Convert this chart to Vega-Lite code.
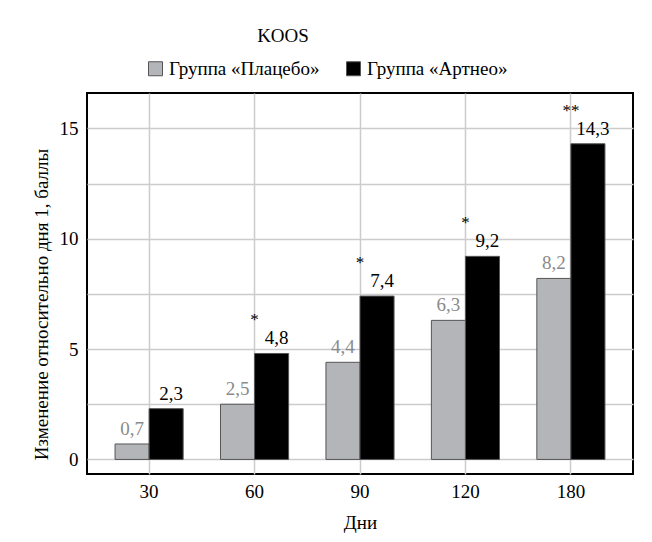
{
  "$schema": "https://vega.github.io/schema/vega-lite/v6.json",
  "width": 546,
  "height": 381,
  "autosize": {"type": "none"},
  "padding": {"left": 87, "top": 93, "right": 19, "bottom": 68},
  "background": "white",
  "title": {
    "text": "KOOS",
    "font": "Liberation Serif",
    "fontSize": 19,
    "fontWeight": "normal",
    "color": "black",
    "anchor": "middle",
    "frame": "group",
    "dx": -77,
    "offset": -2,
    "baseline": "alphabetic"
  },
  "data": {
    "values": [
      {"day": "30", "group": "Группа «Плацебо»", "value": 0.7, "label": "0,7", "sig": ""},
      {"day": "30", "group": "Группа «Артнео»", "value": 2.3, "label": "2,3", "sig": ""},
      {"day": "60", "group": "Группа «Плацебо»", "value": 2.5, "label": "2,5", "sig": ""},
      {"day": "60", "group": "Группа «Артнео»", "value": 4.8, "label": "4,8", "sig": "*"},
      {"day": "90", "group": "Группа «Плацебо»", "value": 4.4, "label": "4,4", "sig": ""},
      {"day": "90", "group": "Группа «Артнео»", "value": 7.4, "label": "7,4", "sig": "*"},
      {"day": "120", "group": "Группа «Плацебо»", "value": 6.3, "label": "6,3", "sig": ""},
      {"day": "120", "group": "Группа «Артнео»", "value": 9.2, "label": "9,2", "sig": "*"},
      {"day": "180", "group": "Группа «Плацебо»", "value": 8.2, "label": "8,2", "sig": ""},
      {"day": "180", "group": "Группа «Артнео»", "value": 14.3, "label": "14,3", "sig": "**"}
    ]
  },
  "encoding": {
    "x": {
      "field": "day",
      "type": "nominal",
      "sort": ["30", "60", "90", "120", "180"],
      "scale": {"paddingInner": 0.354, "paddingOuter": 0.266},
      "axis": {
        "title": "Дни",
        "labelAngle": 0,
        "grid": true,
        "bandPosition": 0.5,
        "gridColor": "#cccccc",
        "gridWidth": 1.5,
        "ticks": false,
        "tickSize": 0,
        "domain": false,
        "labelPadding": 8,
        "titleBaseline": "middle",
        "titleY": 48
      }
    },
    "y": {
      "field": "value",
      "type": "quantitative",
      "scale": {"domain": [-0.66, 16.6], "nice": false, "zero": false},
      "axis": {
        "title": "Изменение относительно дня 1, баллы",
        "values": [0, 2.5, 5, 7.5, 10, 12.5, 15],
        "labelExpr": "datum.value % 5 === 0 ? datum.value : ''",
        "grid": true,
        "gridColor": "#cccccc",
        "gridWidth": 1.5,
        "ticks": false,
        "tickSize": 0,
        "domain": false,
        "labelPadding": 9,
        "titleBaseline": "middle",
        "titleX": -46,
        "titleY": 211
      }
    }
  },
  "layer": [
    {
      "mark": {"type": "bar", "stroke": "#555555", "strokeWidth": 1},
      "encoding": {
        "xOffset": {
          "field": "group",
          "type": "nominal",
          "sort": ["Группа «Плацебо»", "Группа «Артнео»"],
          "scale": {"domain": ["Группа «Плацебо»", "Группа «Артнео»"], "paddingInner": 0, "paddingOuter": 0}
        },
        "y2": {"datum": 0},
        "color": {
          "field": "group",
          "type": "nominal",
          "sort": ["Группа «Плацебо»", "Группа «Артнео»"],
          "scale": {"domain": ["Группа «Плацебо»", "Группа «Артнео»"], "range": ["#b3b5b8", "#000000"]},
          "legend": {
            "title": null,
            "orient": "none",
            "direction": "horizontal",
            "legendX": 59,
            "legendY": -34,
            "symbolType": "square",
            "symbolSize": 196,
            "symbolStrokeColor": "#555555",
            "symbolStrokeWidth": 1,
            "labelFont": "Liberation Serif",
            "labelFontSize": 19,
            "labelColor": "black",
            "labelOffset": 4,
            "columnPadding": 24
          }
        }
      }
    },
    {
      "transform": [{"filter": "datum.group === 'Группа «Плацебо»'"}],
      "mark": {"type": "text", "baseline": "alphabetic", "dy": -9, "font": "Liberation Serif", "fontSize": 19, "color": "#8a8a8a"},
      "encoding": {
        "xOffset": {
          "field": "group",
          "type": "nominal",
          "sort": ["Группа «Плацебо»", "Группа «Артнео»"],
          "scale": {"domain": ["Группа «Плацебо»", "Группа «Артнео»"], "paddingInner": 0, "paddingOuter": 0}
        },
        "text": {"field": "label"}
      }
    },
    {
      "transform": [{"filter": "datum.group === 'Группа «Артнео»'"}],
      "mark": {"type": "text", "baseline": "alphabetic", "dy": -9, "dx": 5, "font": "Liberation Serif", "fontSize": 19, "color": "#000000"},
      "encoding": {
        "xOffset": {
          "field": "group",
          "type": "nominal",
          "sort": ["Группа «Плацебо»", "Группа «Артнео»"],
          "scale": {"domain": ["Группа «Плацебо»", "Группа «Артнео»"], "paddingInner": 0, "paddingOuter": 0}
        },
        "text": {"field": "label"}
      }
    },
    {
      "transform": [{"filter": "datum.sig !== ''"}],
      "mark": {"type": "text", "baseline": "alphabetic", "dy": -28, "font": "Liberation Serif", "fontSize": 17, "color": "#000000"},
      "encoding": {
        "text": {"field": "sig"}
      }
    }
  ],
  "config": {
    "view": {"stroke": "black", "strokeWidth": 2},
    "axis": {
      "labelFont": "Liberation Serif",
      "labelFontSize": 19,
      "labelColor": "black",
      "titleFont": "Liberation Serif",
      "titleFontSize": 19,
      "titleFontWeight": "normal",
      "titleColor": "black"
    }
  }
}
